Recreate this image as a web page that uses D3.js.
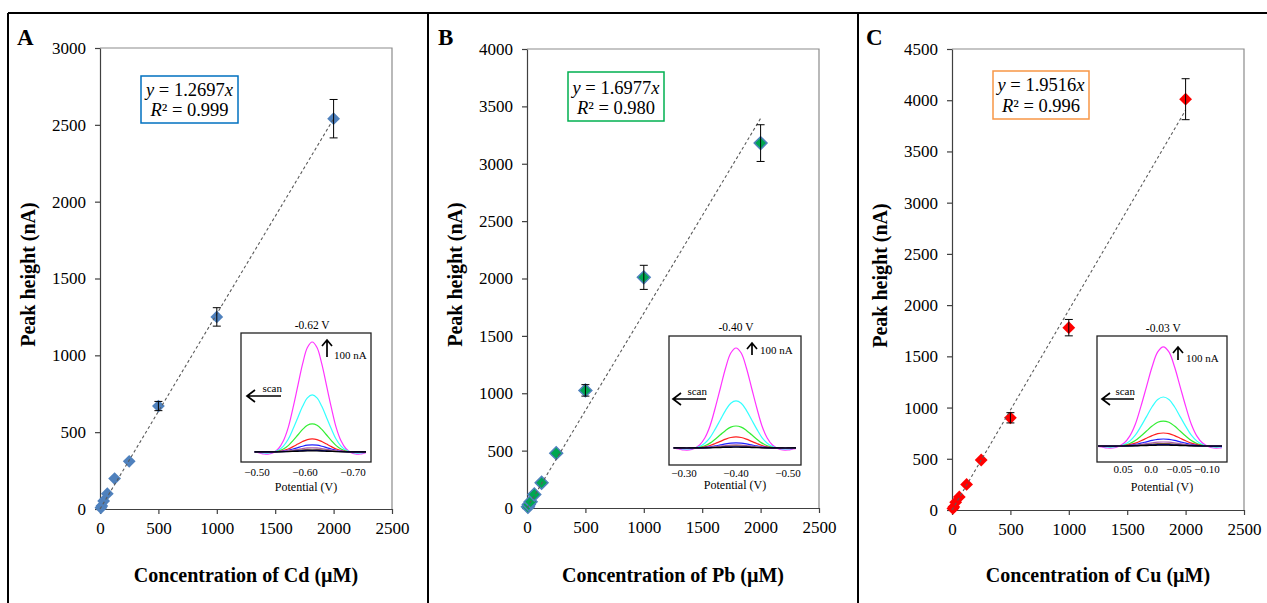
<!DOCTYPE html>
<html>
<head>
<meta charset="utf-8">
<script src="https://cdn.jsdelivr.net/npm/d3@7"></script>
<style>
  body { margin: 0; background: #fff; }
  svg { display: block; font-family: "Liberation Serif", "Times New Roman", serif; }
</style>
</head>
<body>
<div id="chart"></div>
<script>
// calibration data
const concentrations = [7.8, 15.6, 31.25, 62.5, 125, 250, 500, 1000, 2000];
const cdPeak = [8, 20, 52, 100, 198, 310, 670, 1250, 2540];
const cdErr = [2, 3, 5, 8, 10, 15, 30, 60, 125];
const pbPeak = [10, 30, 55, 118, 220, 478, 1025, 2010, 3180];
const pbErr = [3, 4, 6, 10, 15, 20, 50, 105, 160];
const cuPeak = [15, 30, 75, 128, 250, 488, 900, 1780, 4010];
const cuErr = [3, 5, 8, 10, 15, 20, 50, 80, 200];

const metals = ['Cd', 'Pb', 'Cu'];
const panelLetters = ['A', 'B', 'C'];
const slopes = ['1.2697', '1.6977', '1.9516'];
const rSquared = ['0.999', '0.980', '0.996'];
const trendEnd = [0, 2000];

const xTicks = [0, 500, 1000, 1500, 2000, 2500];
const cdYTicks = [0, 500, 1000, 1500, 2000, 2500, 3000];
const pbYTicks = [0, 500, 1000, 1500, 2000, 2500, 3000, 3500, 4000];
const cuYTicks = [0, 500, 1000, 1500, 2000, 2500, 3000, 3500, 4000, 4500];

// inset voltammograms: one peak shape, scaled per curve
const shapeOffset = [-0.12, -0.11, -0.10, -0.09, -0.08, -0.07, -0.06, -0.05, -0.04, -0.03, -0.02, -0.01, 0,
  0.01, 0.02, 0.03, 0.04, 0.05, 0.06, 0.07, 0.08, 0.09, 0.10, 0.11, 0.12];
const shapeFraction = [0, -0.01, -0.02, -0.02, -0.005, 0.03, 0.1, 0.22, 0.4, 0.6, 0.8, 0.95, 1,
  0.95, 0.8, 0.6, 0.4, 0.22, 0.1, 0.03, -0.005, -0.02, -0.02, -0.01, 0];
const cdCurves = [647, 335, 165, 76, 41, 24, 15, 9, 5];
const pbCurves = [833, 392, 183, 92, 42, 25, 17, 10, 6];
const cuCurves = [762, 377, 192, 100, 54, 31, 19, 11, 6];
const curveColors = ['#ff33ff', '#33ffff', '#33ee33', '#ff2020', '#2020ff', '#b060b0', '#806040', '#000080', '#000000'];
const peakPotential = [-0.615, -0.40, -0.022];
const peakLabels = ['-0.62 V', '-0.40 V', '-0.03 V'];
const cdInsetTicks = [-0.50, -0.60, -0.70];
const pbInsetTicks = [-0.30, -0.40, -0.50];
const cuInsetTicks = [0.05, 0.0, -0.05, -0.10];

const peaks = [cdPeak, pbPeak, cuPeak];
const errs = [cdErr, pbErr, cuErr];
const yTicks = [cdYTicks, pbYTicks, cuYTicks];
const curves = [cdCurves, pbCurves, cuCurves];
const insetTicks = [cdInsetTicks, pbInsetTicks, cuInsetTicks];

// layout of the three panels (pixels)
const layout = [
  { left: 100, right: 392, top: 48, bottom: 509, letterX: 17, ylabX: 35,
    box: [141, 76, 97, 47], boxColor: '#0070c0', eqY: [96, 116],
    fill: '#4f81bd', stroke: 'none',
    inset: { x0: 241, y0: 333, x1: 371, y1: 462, xd: [-0.50, -0.70], xr: [257, 353], yd: [-60, 700],
      titleY: 329, tickY: 476, labY: 491, upX: 327, upTop: 340, nAx: 334, nAy: 359,
      scanX0: 281, scanX1: 247, scanY: 396, tickFmt: '.2f' } },
  { left: 527, right: 819, top: 49, bottom: 508, letterX: 438, ylabX: 462,
    box: [568, 72, 96, 49], boxColor: '#00b050', eqY: [94, 114],
    fill: '#00a651', stroke: '#4f81bd',
    inset: { x0: 669, y0: 336, x1: 801, y1: 465, xd: [-0.30, -0.50], xr: [684, 788], yd: [-142, 933],
      titleY: 331, tickY: 477, labY: 489, upX: 752, upTop: 343, nAx: 760, nAy: 354,
      scanX0: 706, scanX1: 673, scanY: 399, tickFmt: '.2f' } },
  { left: 952, right: 1244, top: 49, bottom: 510, letterX: 866, ylabX: 887,
    box: [993, 71, 96, 48], boxColor: '#f79646', eqY: [91, 112],
    fill: '#ff0000', stroke: 'none',
    inset: { x0: 1097, y0: 336, x1: 1227, y1: 462, xd: [0.05, -0.10], xr: [1123, 1207], yd: [-123, 846],
      titleY: 332, tickY: 473, labY: 491, upX: 1178, upTop: 347, nAx: 1186, nAy: 362,
      scanX0: 1134, scanX1: 1102, scanY: 399, tickFmt: null } }
];

const W = 1267, H = 603;
const serif = '"Liberation Serif", "Times New Roman", serif';
const svg = d3.select('#chart').append('svg').attr('width', W).attr('height', H);

// outer frame and dividers
svg.append('g').attr('stroke', '#000').attr('stroke-width', 2)
  .selectAll('line')
  .data([[8, 13, W, 13], [8, 13, 8, H], [428, 13, 428, H], [858, 13, 858, H]])
  .enter().append('line')
  .attr('x1', d => d[0]).attr('y1', d => d[1]).attr('x2', d => d[2]).attr('y2', d => d[3]);

const diamond = d3.symbol().type(d3.symbolSquare).size(82);

layout.forEach((L, p) => {
  const g = svg.append('g');
  const x = d3.scaleLinear().domain([0, 2500]).range([L.left, L.right]);
  const yMax = yTicks[p][yTicks[p].length - 1];
  const y = d3.scaleLinear().domain([0, yMax]).range([L.bottom, L.top]);

  // plot area border (top / right)
  g.append('path')
    .attr('d', `M${L.left},${L.top}H${L.right}V${L.bottom}`)
    .attr('fill', 'none').attr('stroke', '#8c8c8c').attr('stroke-width', 1.2);

  const xAxis = g.append('g').attr('transform', `translate(0,${L.bottom})`)
    .call(d3.axisBottom(x).tickValues(xTicks).tickSize(5).tickSizeOuter(0).tickPadding(8).tickFormat(d3.format('d')));
  const yAxis = g.append('g').attr('transform', `translate(${L.left},0)`)
    .call(d3.axisLeft(y).tickValues(yTicks[p]).tickSize(5).tickSizeOuter(0).tickPadding(9).tickFormat(d3.format('d')));
  [xAxis, yAxis].forEach(a => {
    a.attr('font-family', serif).attr('font-size', 17);
    a.selectAll('path, line').attr('stroke', '#404040').attr('stroke-width', 1.2);
    a.selectAll('text').attr('fill', '#000');
  });

  // panel letter and axis titles
  g.append('text').attr('x', L.letterX).attr('y', 45)
    .style('font-size', '23px').style('font-weight', 'bold').text(panelLetters[p]);
  g.append('text')
    .attr('transform', `translate(${L.ylabX},${(L.top + L.bottom) / 2 - 4}) rotate(-90)`)
    .attr('text-anchor', 'middle').style('font-size', '20px').style('font-weight', 'bold')
    .text('Peak height (nA)');
  g.append('text').attr('x', (L.left + L.right) / 2).attr('y', 582)
    .attr('text-anchor', 'middle').style('font-size', '20px').style('font-weight', 'bold')
    .text(`Concentration of ${metals[p]} (\u00b5M)`);

  // equation box
  g.append('rect').attr('x', L.box[0]).attr('y', L.box[1]).attr('width', L.box[2]).attr('height', L.box[3])
    .attr('fill', '#fff').attr('stroke', L.boxColor).attr('stroke-width', 1.5);
  const cx = L.box[0] + L.box[2] / 2;
  const t1 = g.append('text').attr('x', cx).attr('y', L.eqY[0]).attr('text-anchor', 'middle').style('font-size', '18.5px');
  t1.append('tspan').style('font-style', 'italic').text('y');
  t1.append('tspan').text(` = ${slopes[p]}`);
  t1.append('tspan').style('font-style', 'italic').text('x');
  const t2 = g.append('text').attr('x', cx).attr('y', L.eqY[1]).attr('text-anchor', 'middle').style('font-size', '18.5px');
  t2.append('tspan').style('font-style', 'italic').text('R');
  t2.append('tspan').text(`\u00b2 = ${rSquared[p]}`);

  // markers
  const pts = concentrations.map((c, i) => ({ c: c, v: peaks[p][i], e: errs[p][i] }));
  g.append('g').selectAll('path').data(pts).enter().append('path')
    .attr('d', diamond)
    .attr('transform', d => `translate(${x(d.c)},${y(d.v)}) rotate(45)`)
    .attr('fill', L.fill).attr('stroke', L.stroke).attr('stroke-width', L.stroke === 'none' ? 0 : 1.5);

  // trend line
  g.append('path')
    .attr('d', d3.line().x(d => x(d)).y(d => y(+slopes[p] * d))(trendEnd))
    .attr('fill', 'none').attr('stroke', '#5a5a5a').attr('stroke-width', 1.1).attr('stroke-dasharray', '3,2.5');

  // error bars
  const eb = g.append('g').attr('stroke', '#000').attr('stroke-width', 1);
  pts.forEach(d => {
    if (y(d.v - d.e) - y(d.v + d.e) < 8) return;
    const px = x(d.c);
    eb.append('line').attr('x1', px).attr('x2', px).attr('y1', y(d.v - d.e)).attr('y2', y(d.v + d.e));
    [d.v - d.e, d.v + d.e].forEach(v => {
      eb.append('line').attr('x1', px - 4).attr('x2', px + 4).attr('y1', y(v)).attr('y2', y(v));
    });
  });

  // inset voltammogram
  const I = L.inset;
  const ix = d3.scaleLinear().domain(I.xd).range(I.xr);
  const iy = d3.scaleLinear().domain(I.yd).range([I.y1, I.y0]);
  const ig = g.append('g');
  ig.append('rect').attr('x', I.x0).attr('y', I.y0).attr('width', I.x1 - I.x0).attr('height', I.y1 - I.y0)
    .attr('fill', '#fff').attr('stroke', '#222').attr('stroke-width', 1.3);
  svg.append('clipPath').attr('id', 'clip' + p).append('rect')
    .attr('x', I.x0 + 1).attr('y', I.y0 + 1).attr('width', I.x1 - I.x0 - 6).attr('height', I.y1 - I.y0 - 2);
  const cg = ig.append('g').attr('clip-path', `url(#clip${p})`);
  const curveLine = d3.line().curve(d3.curveCatmullRom)
    .x(d => ix(d[0])).y(d => iy(d[1]));
  curves[p].forEach((h, k) => {
    const data = shapeOffset.map((o, j) => [peakPotential[p] - o, shapeFraction[j] * h]);
    cg.append('path').attr('d', curveLine(data))
      .attr('fill', 'none').attr('stroke', curveColors[k]).attr('stroke-width', 1.2);
  });
  const fmt = I.tickFmt ? d3.format(I.tickFmt) : (v => v === 0 ? '0.0' : d3.format('.2f')(v));
  ig.append('g').selectAll('text').data(insetTicks[p]).enter().append('text')
    .attr('x', d => ix(d)).attr('y', I.tickY).attr('text-anchor', 'middle')
    .style('font-size', '11px').text(d => fmt(d));
  ig.append('text').attr('x', (I.x0 + I.x1) / 2).attr('y', I.labY).attr('text-anchor', 'middle')
    .style('font-size', '12px').text('Potential (V)');
  ig.append('text').attr('x', ix(peakPotential[p])).attr('y', I.titleY).attr('text-anchor', 'middle')
    .style('font-size', '11.5px').text(peakLabels[p]);

  // 100 nA scale arrow
  const arrowLen = iy(0) - iy(100);
  ig.append('path')
    .attr('d', `M${I.upX},${I.upTop + arrowLen}V${I.upTop}M${I.upX - 5},${I.upTop + 6}L${I.upX},${I.upTop}L${I.upX + 5},${I.upTop + 6}`)
    .attr('fill', 'none').attr('stroke', '#000').attr('stroke-width', 1.7);
  ig.append('text').attr('x', I.nAx).attr('y', I.nAy).style('font-size', '11px').text('100 nA');

  // scan direction arrow
  ig.append('path')
    .attr('d', `M${I.scanX0},${I.scanY}H${I.scanX1}M${I.scanX1 + 8},${I.scanY - 6}L${I.scanX1},${I.scanY}L${I.scanX1 + 8},${I.scanY + 6}`)
    .attr('fill', 'none').attr('stroke', '#000').attr('stroke-width', 1.7);
  ig.append('text').attr('x', I.scanX0 + 1).attr('y', I.scanY - 4).attr('text-anchor', 'end')
    .style('font-size', '11px').text('scan');
});
</script>
</body>
</html>
